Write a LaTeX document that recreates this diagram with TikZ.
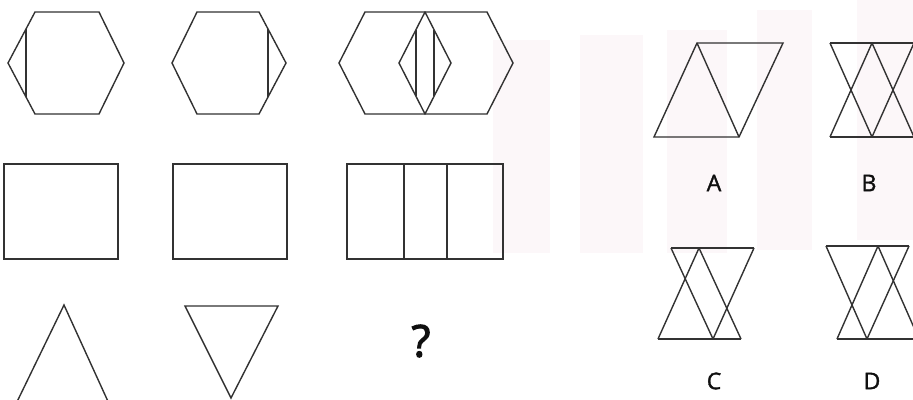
\documentclass[tikz,border=0pt]{standalone}
\usepackage{fontspec}
\setmainfont{Open Sans}
\newfontfamily\lblfont[UprightFeatures={FakeBold=1.5}]{Open Sans}
\newfontfamily\qfont[UprightFeatures={FakeBold=2.5}]{Open Sans}
\definecolor{linecol}{RGB}{50,50,50}
\definecolor{txtcol}{RGB}{15,15,15}
\definecolor{wmpink}{RGB}{252,247,249}
\tikzset{
  fig/.style={draw=linecol, line width=1.4pt, line join=miter},
  lbl/.style={text=txtcol, inner sep=0pt, font=\lblfont\fontsize{23}{23}\selectfont},
  qmark/.style={text=txtcol, inner sep=0pt, font=\qfont\fontsize{44}{44}\selectfont},
  wm/.style={fill=wmpink, draw=none}
}
\begin{document}
\begin{tikzpicture}[x=1pt,y=-1pt]
\useasboundingbox (0,0) rectangle (913,399);
\fill[white] (0,0) rectangle (913,399);
\clip (0,0) rectangle (913,399);
% faint watermark bands
\fill[wm] (493,40) rectangle (550,253);
\fill[wm] (580,35) rectangle (643,253);
\fill[wm] (667,30) rectangle (727,253);
\fill[wm] (757,10) rectangle (812,250);
\fill[wm] (857,0) rectangle (913,240);

% Row 1: hexagons
\draw[fig] (35,12) -- (99,12) -- (124,63) -- (99,114) -- (35,114) -- (8,63) -- cycle;
\draw[fig] (26,29) -- (26,97);
\draw[fig] (197,12) -- (259,12) -- (286,63) -- (259,114) -- (197,114) -- (172,63) -- cycle;
\draw[fig] (268,29) -- (268,97);
\draw[fig] (365,12) -- (425,12) -- (451,63) -- (425,114) -- (365,114) -- (339,63) -- cycle;
\draw[fig] (425,12) -- (487,12) -- (513,63) -- (487,114) -- (425,114) -- (399,63) -- cycle;
\draw[fig] (416,30) -- (416,96);
\draw[fig] (434,30) -- (434,96);

% Row 2: rectangles
\draw[fig] (4,164) rectangle (118,259);
\draw[fig] (173,164) rectangle (287,259);
\draw[fig] (347,164) rectangle (503,259);
\draw[fig] (404,164) -- (404,259);
\draw[fig] (447,164) -- (447,259);

% Row 3: triangles
\draw[fig] (14,408) -- (64,305) -- (111,408);
\draw[fig] (185,306) -- (278,306) -- (231,398) -- cycle;
\node[qmark] (q) at (421,341) {?};

% Option A
\draw[fig] (654,137) -- (697,43) -- (783,43) -- (739,137) -- cycle;
\draw[fig] (697,43) -- (739,137);
\node[lbl] (la) at (714,183) {A};

% Option B
\draw[fig] (830,43) -- (920,43);
\draw[fig] (830,137) -- (920,137);
\draw[fig] (830,43) -- (872,137);
\draw[fig] (872,43) -- (830,137);
\draw[fig] (872,43) -- (914,137);
\draw[fig] (914,43) -- (872,137);
\node[lbl] (lb) at (869,183) {B};

% Option C
\draw[fig] (671,248) -- (754,248);
\draw[fig] (658,339) -- (741,339);
\draw[fig] (671,248) -- (713,339);
\draw[fig] (699,248) -- (658,339);
\draw[fig] (699,248) -- (741,339);
\draw[fig] (754,248) -- (713,339);
\node[lbl] (lc) at (714,381) {C};

% Option D
\draw[fig] (826,246) -- (909,246);
\draw[fig] (837,339) -- (920,339);
\draw[fig] (826,246) -- (867,339);
\draw[fig] (878,246) -- (837,339);
\draw[fig] (878,246) -- (919,339);
\draw[fig] (909,246) -- (867,339);
\node[lbl] (ld) at (872,381) {D};
\end{tikzpicture}
\end{document}
